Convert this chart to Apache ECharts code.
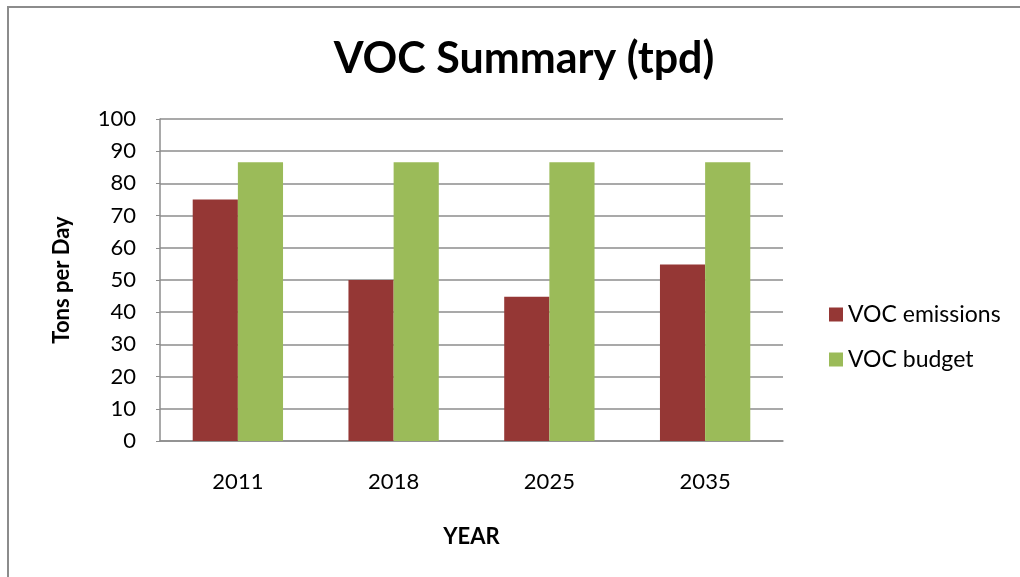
<!DOCTYPE html>
<html><head><meta charset="utf-8">
<script src="https://cdn.jsdelivr.net/npm/echarts@6/dist/echarts.min.js"></script>
<style>html,body{margin:0;padding:0;background:#fff}#c{width:1020px;height:577px}</style>
</head><body><div id="c"></div>
<script>
const categories = ['2011', '2018', '2025', '2035'];
const emissions = [75, 50, 44.8, 54.8];
const budget = [86.6, 86.6, 86.6, 86.6];
const yTicks = [0, 10, 20, 30, 40, 50, 60, 70, 80, 90, 100];

const FONT = 'Lato';
const chart = echarts.init(document.getElementById('c'), null, {renderer: 'canvas'});
chart.setOption({
  backgroundColor: '#fff',
  animation: false,
  graphic: [{
    type: 'rect', shape: {x: 8, y: 7, width: 1030, height: 600},
    style: {fill: 'none', stroke: '#8c8c8c', lineWidth: 2}, silent: true, z: 0
  }],
  title: {
    text: 'VOC Summary (tpd)', left: 519, top: 33, textAlign: 'center',
    textStyle: {fontFamily: FONT, fontSize: 43, fontWeight: 'bold', color: '#000'}
  },
  legend: {
    orient: 'vertical', left: 824, top: 298, itemGap: 22, itemWidth: 14, itemHeight: 14,
    icon: 'rect', textStyle: {fontFamily: FONT, fontSize: 23, color: '#000'},
    data: ['VOC emissions', 'VOC budget']
  },
  grid: {left: 160, right: 237, top: 119, bottom: 136, containLabel: false},
  xAxis: {
    type: 'category', data: categories,
    name: 'YEAR', nameLocation: 'middle', nameGap: 85,
    nameTextStyle: {fontFamily: FONT, fontSize: 22, fontWeight: 'bold', color: '#000'},
    axisLine: {lineStyle: {color: '#8c8c8c', width: 1.5}},
    axisTick: {show: false},
    axisLabel: {fontFamily: FONT, fontSize: 22, color: '#000', margin: 30}
  },
  yAxis: {
    type: 'value', min: 0, max: 100, interval: 10,
    name: 'Tons per Day', nameLocation: 'middle', nameGap: 87, nameRotate: 90,
    nameTextStyle: {fontFamily: FONT, fontSize: 22, fontWeight: 'bold', color: '#000'},
    axisLine: {show: true, lineStyle: {color: '#8c8c8c', width: 1.5}},
    axisTick: {show: true, length: 4, lineStyle: {color: '#8c8c8c'}},
    splitLine: {lineStyle: {color: '#8c8c8c', width: 1.5}},
    axisLabel: {fontFamily: FONT, fontSize: 22, color: '#000', margin: 24,
      formatter: v => yTicks.includes(v) ? String(v) : ''}
  },
  series: [
    {name: 'VOC emissions', type: 'bar', data: emissions, barGap: '0%', barCategoryGap: '42%',
     itemStyle: {color: '#953735'}},
    {name: 'VOC budget', type: 'bar', data: budget, barGap: '0%', barCategoryGap: '42%',
     itemStyle: {color: '#9BBB59'}}
  ]
});
</script></body></html>
